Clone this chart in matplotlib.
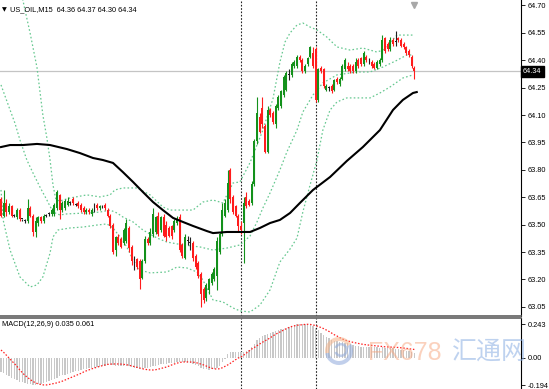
import matplotlib
matplotlib.use("Agg")
import matplotlib.pyplot as plt
import matplotlib.transforms as mtransforms
from matplotlib.patches import Wedge

plt.rcParams["font.family"] = ["Liberation Sans", "DejaVu Sans"]

# ---- candles (US_OIL, M15) ----
opens = [
    63.64, 63.55, 63.62, 63.57, 63.60, 63.55, 63.54, 63.58, 63.53, 63.52,
    63.52, 63.59, 63.55, 63.46, 63.51, 63.54, 63.52, 63.55, 63.56, 63.56,
    63.56, 63.59, 63.66, 63.58, 63.59, 63.61, 63.62, 63.64, 63.61, 63.62,
    63.61, 63.59, 63.57, 63.58, 63.56, 63.59, 63.61, 63.59, 63.60, 63.61,
    63.58, 63.55, 63.50, 63.36, 63.43, 63.42, 63.40, 63.41, 63.48, 63.38,
    63.31, 63.31, 63.30, 63.21, 63.30, 63.42, 63.40, 63.45, 63.46, 63.55,
    63.47, 63.54, 63.50, 63.48, 63.49, 63.47, 63.51, 63.54, 63.39, 63.32,
    63.41, 63.40, 63.40, 63.33, 63.29, 63.23, 63.15, 63.10, 63.14, 63.18,
    63.20, 63.22, 63.35, 63.45, 63.55, 63.58, 63.80, 63.65, 63.60, 63.55,
    63.49, 63.51, 63.65, 63.63, 63.62, 63.72, 63.96, 64.09, 64.14, 64.04,
    63.90, 64.13, 64.11, 64.05, 64.14, 64.15, 64.21, 64.24, 64.32, 64.32,
    64.37, 64.37, 64.42, 64.40, 64.34, 64.38, 64.42, 64.44, 64.46, 64.18,
    64.36, 64.35, 64.24, 64.25, 64.26, 64.24, 64.30, 64.27, 64.30, 64.35,
    64.37, 64.37, 64.37, 64.34, 64.40, 64.41, 64.38, 64.42, 64.40, 64.39,
    64.38, 64.36, 64.38, 64.40, 64.52, 64.49, 64.46, 64.51, 64.50, 64.52,
    64.51, 64.49, 64.47, 64.45, 64.42, 64.36,
]
highs = [
    63.65, 63.69, 63.64, 63.62, 63.61, 63.56, 63.59, 63.59, 63.53, 63.53,
    63.64, 63.60, 63.56, 63.54, 63.55, 63.55, 63.56, 63.56, 63.57, 63.59,
    63.62, 63.69, 63.67, 63.63, 63.64, 63.65, 63.63, 63.65, 63.62, 63.63,
    63.62, 63.60, 63.59, 63.59, 63.59, 63.62, 63.62, 63.61, 63.61, 63.62,
    63.59, 63.56, 63.51, 63.44, 63.45, 63.43, 63.48, 63.53, 63.49, 63.39,
    63.33, 63.32, 63.31, 63.31, 63.44, 63.43, 63.48, 63.59, 63.55, 63.57,
    63.55, 63.56, 63.52, 63.49, 63.50, 63.53, 63.55, 63.56, 63.40, 63.45,
    63.44, 63.43, 63.41, 63.34, 63.30, 63.24, 63.16, 63.18, 63.21, 63.24,
    63.27, 63.43, 63.46, 63.62, 63.64, 63.80, 63.81, 63.66, 63.61, 63.56,
    63.52, 63.65, 63.68, 63.64, 63.74, 63.97, 64.20, 64.11, 64.20, 64.05,
    64.15, 64.14, 64.12, 64.16, 64.21, 64.24, 64.32, 64.34, 64.35, 64.39,
    64.40, 64.43, 64.43, 64.41, 64.38, 64.42, 64.48, 64.47, 64.47, 64.36,
    64.37, 64.36, 64.27, 64.26, 64.27, 64.30, 64.31, 64.31, 64.38, 64.41,
    64.39, 64.38, 64.38, 64.41, 64.41, 64.42, 64.45, 64.43, 64.41, 64.40,
    64.39, 64.40, 64.41, 64.54, 64.53, 64.50, 64.53, 64.52, 64.56, 64.53,
    64.52, 64.50, 64.48, 64.46, 64.43, 64.37,
]
lows = [
    63.54, 63.54, 63.55, 63.56, 63.54, 63.54, 63.53, 63.52, 63.52, 63.51,
    63.51, 63.54, 63.44, 63.43, 63.49, 63.51, 63.51, 63.54, 63.55, 63.55,
    63.55, 63.58, 63.53, 63.57, 63.58, 63.60, 63.61, 63.61, 63.60, 63.59,
    63.57, 63.56, 63.56, 63.56, 63.55, 63.57, 63.58, 63.58, 63.59, 63.58,
    63.54, 63.48, 63.34, 63.33, 63.39, 63.37, 63.39, 63.40, 63.35, 63.28,
    63.25, 63.26, 63.15, 63.20, 63.29, 63.39, 63.39, 63.43, 63.45, 63.44,
    63.46, 63.43, 63.41, 63.43, 63.42, 63.46, 63.50, 63.35, 63.32, 63.31,
    63.39, 63.36, 63.30, 63.26, 63.21, 63.05, 63.07, 63.08, 63.12, 63.17,
    63.19, 63.14, 63.34, 63.44, 63.54, 63.57, 63.62, 63.56, 63.54, 63.46,
    63.45, 63.29, 63.59, 63.60, 63.61, 63.71, 63.94, 64.00, 64.03, 63.89,
    63.89, 64.09, 64.05, 64.03, 64.13, 64.14, 64.20, 64.23, 64.29, 64.31,
    64.36, 64.36, 64.39, 64.33, 64.33, 64.37, 64.41, 64.36, 64.17, 64.17,
    64.33, 64.25, 64.23, 64.23, 64.22, 64.23, 64.27, 64.26, 64.29, 64.34,
    64.34, 64.33, 64.33, 64.33, 64.36, 64.37, 64.37, 64.39, 64.38, 64.36,
    64.35, 64.35, 64.37, 64.39, 64.44, 64.45, 64.45, 64.48, 64.48, 64.50,
    64.47, 64.46, 64.43, 64.42, 64.36, 64.30,
]
closes = [
    63.55, 63.62, 63.57, 63.60, 63.55, 63.55, 63.58, 63.53, 63.53, 63.52,
    63.59, 63.55, 63.46, 63.52, 63.54, 63.52, 63.55, 63.55, 63.56, 63.58,
    63.61, 63.68, 63.58, 63.62, 63.63, 63.63, 63.62, 63.62, 63.61, 63.60,
    63.58, 63.57, 63.58, 63.57, 63.58, 63.59, 63.59, 63.60, 63.60, 63.59,
    63.55, 63.49, 63.35, 63.43, 63.40, 63.38, 63.47, 63.51, 63.37, 63.30,
    63.31, 63.27, 63.20, 63.30, 63.42, 63.40, 63.46, 63.56, 63.54, 63.45,
    63.54, 63.44, 63.43, 63.44, 63.44, 63.52, 63.53, 63.36, 63.33, 63.43,
    63.41, 63.40, 63.32, 63.27, 63.22, 63.12, 63.09, 63.17, 63.20, 63.23,
    63.26, 63.41, 63.45, 63.58, 63.62, 63.73, 63.64, 63.57, 63.55, 63.49,
    63.47, 63.62, 63.60, 63.61, 63.72, 63.96, 64.11, 64.01, 64.05, 63.90,
    64.13, 64.10, 64.06, 64.15, 64.20, 64.23, 64.31, 64.33, 64.32, 64.38,
    64.39, 64.42, 64.40, 64.34, 64.37, 64.41, 64.47, 64.37, 64.18, 64.35,
    64.34, 64.26, 64.26, 64.25, 64.23, 64.29, 64.28, 64.30, 64.37, 64.40,
    64.35, 64.34, 64.34, 64.39, 64.37, 64.38, 64.44, 64.40, 64.40, 64.37,
    64.36, 64.39, 64.40, 64.51, 64.45, 64.46, 64.51, 64.49, 64.50, 64.51,
    64.48, 64.47, 64.44, 64.43, 64.37, 64.34,
]

# ---- moving average (black) read at a few bars ----
ma_idx = [0, 3.4, 8.2, 13.5, 18.4, 24.7, 29.6, 34.5, 38.2, 42, 45.7, 49.5,
          53.2, 57, 60.7, 64.5, 68.2, 72, 77.2, 79.5, 84.7, 89.6, 93.4, 97.1,
          100.9, 104.6, 108.4, 112.1, 117, 123.4, 129.7, 135.7, 142.1, 147,
          150.7, 154.5, 155.9]
ma_val = [63.925, 63.936, 63.936, 63.942, 63.936, 63.914, 63.892, 63.865,
          63.854, 63.838, 63.788, 63.734, 63.679, 63.624, 63.580, 63.537,
          63.515, 63.493, 63.465, 63.454, 63.460, 63.460, 63.460, 63.482,
          63.509, 63.526, 63.564, 63.619, 63.690, 63.761, 63.849, 63.925,
          64.018, 64.128, 64.183, 64.221, 64.226]

# ---- Bollinger bands (green dotted) ----
bb_up_idx = [0, 3.4, 6, 8.2, 9, 10.9, 13.5, 15.7, 17.2, 18.4, 19.5, 20.6,
             22.1, 25.9, 32.2, 37.1, 40.9, 42.7, 45.7, 51, 55.9, 60.7, 63.4,
             72, 75.7, 79.5, 83.2, 87, 89.6, 93.4, 98, 102, 104.6, 106.5,
             108.4, 111, 113.2, 115.9, 118.5, 122.2, 126, 130.9, 135.7, 141,
             143.2, 148.5, 154.5]
bb_up = [64.84, 64.89, 64.80, 64.73, 64.675, 64.55, 64.36, 64.10, 63.975,
         63.854, 63.717, 63.635, 63.63, 63.646, 63.663, 63.652, 63.663,
         63.690, 63.701, 63.701, 63.663, 63.597, 63.58, 63.58, 63.624,
         63.635, 63.619, 63.728, 63.734, 63.84, 64.01, 64.19, 64.39, 64.50,
         64.55, 64.593, 64.604, 64.582, 64.566, 64.527, 64.473, 64.456,
         64.467, 64.445, 64.456, 64.538, 64.538]
bb_mid_idx = [0, 3.4, 5.2, 7.1, 9.7, 12, 14.6, 17.2, 19.5, 22.1, 24.7, 32.2,
              37.1, 40.9, 43.5, 45.7, 49.5, 53.2, 58.5, 62.2, 68.2, 74.6,
              79.5, 84.7, 89.6, 93.4, 96, 98.2, 100.9, 104.6, 107.2, 111,
              113.2, 117, 120.7, 126, 133.5, 138.4, 143.2, 148.5, 152.2, 154.5]
bb_mid = [64.265, 64.128, 64.057, 63.964, 63.854, 63.783, 63.706, 63.635,
          63.569, 63.553, 63.559, 63.564, 63.569, 63.58, 63.564, 63.542,
          63.515, 63.471, 63.427, 63.405, 63.389, 63.378, 63.361, 63.372,
          63.389, 63.438, 63.515, 63.591, 63.674, 63.80, 63.898, 64.018,
          64.117, 64.21, 64.276, 64.32, 64.336, 64.336, 64.363, 64.40,
          64.429, 64.429]
bb_low_idx = [0, 0.8, 3.4, 7.1, 10.9, 13.5, 15.7, 18.4, 19.5, 21.4, 25.9,
              30.7, 36, 39.7, 42, 44.6, 47.2, 49.5, 52.1, 55.9, 62.2, 66,
              69.7, 73.5, 75.7, 79.5, 83.2, 87, 89.6, 93.4, 97.1, 100.9,
              104.6, 108.4, 111, 113.2, 115.9, 118.5, 120.7, 123.4, 126,
              129.7, 138.4, 142.1, 145.9, 150.7, 154.5]
bb_low = [63.69, 63.526, 63.361, 63.214, 63.159, 63.17, 63.214, 63.345,
          63.433, 63.471, 63.482, 63.487, 63.498, 63.504, 63.482, 63.433,
          63.378, 63.307, 63.252, 63.236, 63.241, 63.268, 63.263, 63.241,
          63.197, 63.088, 63.077, 63.044, 63.028, 63.022, 63.06, 63.143,
          63.296, 63.367, 63.427, 63.57, 63.717, 63.854, 64.018, 64.128,
          64.172, 64.194, 64.194, 64.221, 64.254, 64.303, 64.32]

# ---- MACD(12,26,9) ----
macd_main = [
    -0.100, -0.110, -0.120, -0.130, -0.140, -0.150, -0.160, -0.170, -0.175, -0.180,
    -0.183, -0.186, -0.190, -0.190, -0.188, -0.185, -0.180, -0.172, -0.165, -0.158,
    -0.150, -0.140, -0.130, -0.125, -0.120, -0.115, -0.110, -0.100, -0.095, -0.090,
    -0.085, -0.080, -0.078, -0.075, -0.072, -0.070, -0.066, -0.062, -0.058, -0.055,
    -0.052, -0.050, -0.050, -0.055, -0.060, -0.060, -0.058, -0.055, -0.060, -0.066,
    -0.070, -0.075, -0.080, -0.080, -0.075, -0.070, -0.066, -0.060, -0.055, -0.050,
    -0.045, -0.042, -0.040, -0.038, -0.035, -0.033, -0.030, -0.028, -0.030, -0.032,
    -0.033, -0.035, -0.040, -0.048, -0.058, -0.070, -0.078, -0.082, -0.083, -0.082,
    -0.080, -0.070, -0.055, -0.030, -0.005, 0.030, 0.040, 0.042, 0.043, 0.042,
    0.040, 0.045, 0.050, 0.060, 0.075, 0.100, 0.130, 0.145, 0.155, 0.165,
    0.175, 0.180, 0.185, 0.190, 0.200, 0.205, 0.210, 0.218, 0.225, 0.230,
    0.235, 0.240, 0.243, 0.243, 0.241, 0.240, 0.235, 0.228, 0.215, 0.200,
    0.180, 0.165, 0.150, 0.140, 0.132, 0.125, 0.118, 0.114, 0.112, 0.110,
    0.105, 0.100, 0.093, 0.088, 0.084, 0.082, 0.080, 0.079, 0.078, 0.077,
    0.076, 0.075, 0.074, 0.075, 0.074, 0.072, 0.070, 0.068, 0.066, 0.063,
    0.060, 0.056, 0.052, 0.047, 0.041, 0.035,
]
macd_signal = [
    0.057, 0.040, 0.020, 0.000, -0.020, -0.040, -0.060, -0.085, -0.105, -0.125,
    -0.140, -0.155, -0.168, -0.178, -0.186, -0.190, -0.193, -0.193, -0.190, -0.186,
    -0.182, -0.178, -0.172, -0.166, -0.158, -0.150, -0.142, -0.134, -0.126, -0.118,
    -0.110, -0.100, -0.092, -0.085, -0.078, -0.072, -0.066, -0.060, -0.055, -0.050,
    -0.046, -0.044, -0.043, -0.043, -0.043, -0.044, -0.046, -0.048, -0.052, -0.057,
    -0.062, -0.067, -0.072, -0.077, -0.081, -0.084, -0.086, -0.086, -0.084, -0.080,
    -0.075, -0.070, -0.065, -0.058, -0.050, -0.043, -0.037, -0.032, -0.029, -0.028,
    -0.028, -0.029, -0.030, -0.033, -0.038, -0.044, -0.050, -0.058, -0.066, -0.073,
    -0.078, -0.079, -0.077, -0.070, -0.060, -0.050, -0.038, -0.025, -0.012, 0.000,
    0.007, 0.020, 0.035, 0.050, 0.064, 0.075, 0.088, 0.100, 0.112, 0.123,
    0.133, 0.145, 0.158, 0.170, 0.180, 0.190, 0.200, 0.210, 0.218, 0.225,
    0.230, 0.234, 0.236, 0.238, 0.240, 0.241, 0.240, 0.236, 0.232, 0.225,
    0.218, 0.210, 0.200, 0.190, 0.178, 0.166, 0.157, 0.146, 0.136, 0.128,
    0.122, 0.117, 0.112, 0.108, 0.104, 0.100, 0.097, 0.094, 0.092, 0.090,
    0.088, 0.086, 0.084, 0.082, 0.080, 0.079, 0.078, 0.077, 0.076, 0.075,
    0.073, 0.071, 0.069, 0.066, 0.063, 0.061,
]

separators = [90, 118]          # dotted period separators (bar index)
price_ticks = [64.70, 64.55, 64.40, 64.25, 64.10, 63.95, 63.80,
               63.65, 63.50, 63.35, 63.20, 63.05]
macd_ticks = [0.243, 0.0, -0.194]
macd_tick_labels = ["0.243", "0.00", "-0.194"]
bid = 64.34
title = "US_OIL,M15  64.36 64.37 64.30 64.34"
macd_title = "MACD(12,26,9) 0.035 0.061"

W, H = 549, 389
GREEN, RED = "#13911b", "#ff1c1c"
BAND = "#66c890"

fig = plt.figure(figsize=(W / 100, H / 100), dpi=100, facecolor="white")
ax = fig.add_axes([0, 73 / H, 521 / W, 316 / H])
axm = fig.add_axes([0, 0, 521 / W, 71 / H])

n = len(closes)
idx = list(range(n))
for a in (ax, axm):
    a.set_xlim(-0.375, 195.0)
    a.set_xticks([])
    a.yaxis.tick_right()
    a.tick_params(axis="y", labelsize=5.3, length=3, width=0.6, pad=1.5,
                  colors="black")
    a.spines["left"].set_visible(False)
    a.spines["right"].set_color("black")
    a.spines["right"].set_linewidth(0.8)
    for s in separators:
        a.axvline(s, color="#222222", lw=0.8, ls=(0, (1.5, 1.5)), zorder=1)

ax.spines["top"].set_visible(False)
ax.spines["bottom"].set_color("#606060")
ax.spines["bottom"].set_linewidth(1.2)
axm.spines["bottom"].set_visible(False)
axm.spines["top"].set_color("#606060")
axm.spines["top"].set_linewidth(1.2)

# main panel
ax.set_ylim(63.0, 64.73)
ax.set_yticks(price_ticks)
ax.set_yticklabels([f"{t:.2f}" for t in price_ticks])
ax.axhline(bid, color="#c4c4c4", lw=0.9, zorder=1)

band_style = dict(color=BAND, lw=0.9, ls=(0, (1.3, 1.8)), zorder=2)
ax.plot(bb_up_idx, bb_up, **band_style)
ax.plot(bb_mid_idx, bb_mid, **band_style)
ax.plot(bb_low_idx, bb_low, **band_style)
ax.plot(ma_idx, ma_val, color="black", lw=1.5, zorder=4,
        solid_joinstyle="round")

colors = []
for o, c in zip(opens, closes):
    if c > o:
        colors.append(GREEN)
    elif c < o:
        colors.append(RED)
    else:
        colors.append("#202020")
ax.vlines(idx, lows, highs, colors=colors, lw=0.8, zorder=3)
bottoms = [min(o, c) for o, c in zip(opens, closes)]
heights = [max(abs(c - o), 0.004) for o, c in zip(opens, closes)]
ax.bar(idx, heights, bottom=bottoms, width=0.8, color=colors,
       linewidth=0, zorder=3)

blend = mtransforms.blended_transform_factory(ax.transAxes, ax.transData)
ax.text(1.004, bid, f"{bid:.2f}", transform=blend, ha="left", va="center",
        fontsize=5.3, color="white", zorder=6,
        bbox=dict(boxstyle="square,pad=0.3", fc="black", ec="black"))
top_blend = mtransforms.blended_transform_factory(ax.transData, ax.transAxes)
ax.plot([n - 1], [0.984], marker="v", ms=4, color="#a8a8a8",
        transform=top_blend, clip_on=False)

# MACD panel
axm.set_ylim(-0.222, 0.286)
axm.set_yticks(macd_ticks)
axm.set_yticklabels(macd_tick_labels)
axm.bar(idx, macd_main, width=0.45, color="#c8c8c8", linewidth=0, zorder=2)
axm.plot(idx, macd_signal, color="#ff2020", lw=0.9, ls=(0, (1.2, 1.4)),
         zorder=3)

# headers
fig.text(2 / W, 1 - 10 / H, "\u25bc", fontsize=4.5, va="center",
         family="DejaVu Sans")
fig.text(10 / W, 1 - 10 / H, title, fontsize=5.3, va="center")
fig.text(2 / W, 1 - 325 / H, macd_title, fontsize=5.3, va="center")

# watermark
ov = fig.add_axes([0, 0, 1, 1], zorder=10)
ov.set_xlim(0, W)
ov.set_ylim(H, 0)
ov.axis("off")
ov.patch.set_alpha(0)
ov.add_patch(Wedge((339, 351), 14, 170, 330, width=4, color="#f5b48a",
                   alpha=0.55, lw=0))
ov.add_patch(Wedge((339, 351), 14, -30, 170, width=4, color="#8fa9dc",
                   alpha=0.55, lw=0))
ov.add_patch(Wedge((341, 350), 7, 200, 520, width=2.5, color="#8fa9dc",
                   alpha=0.55, lw=0))
ov.text(368, 353, "FX678", fontsize=18, color="#f7a47c", alpha=0.5,
        va="center", ha="left", family=["Liberation Sans", "DejaVu Sans"])
ov.text(452, 353, "汇通网", fontsize=18, color="#8aaee3", alpha=0.55,
        va="center", ha="left", family=["Noto Sans CJK SC", "DejaVu Sans"])

fig.savefig("out.png", dpi=100, facecolor="white")
